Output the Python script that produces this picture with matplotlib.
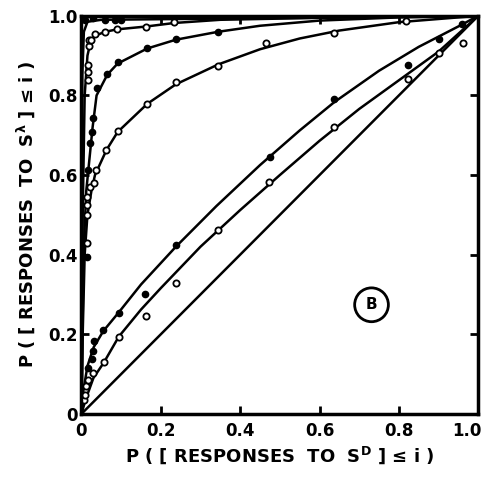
import matplotlib
matplotlib.use("Agg")
import matplotlib.pyplot as plt
import matplotlib.transforms as mtransforms
from matplotlib.patches import Ellipse

# ---- fitted curves ----
fit_a_x = [0, 0.01, 0.03, 0.057, 0.094, 0.15, 0.2, 0.3, 0.4, 0.5, 0.6, 0.7, 0.8, 0.9, 1.0]
fit_a_y = [0, 0.035, 0.09, 0.13, 0.194, 0.262, 0.316, 0.42, 0.512, 0.6, 0.686, 0.766, 0.838, 0.91, 1.0]

fit_b_x = [0, 0.005, 0.015, 0.031, 0.055, 0.094, 0.15, 0.238, 0.34, 0.45, 0.55, 0.637, 0.75, 0.85, 0.959, 1.0]
fit_b_y = [0, 0.06, 0.12, 0.168, 0.208, 0.255, 0.325, 0.42, 0.522, 0.625, 0.712, 0.783, 0.862, 0.922, 0.978, 1.0]

fit_c_x = [0, 0.003, 0.008, 0.015, 0.025, 0.034, 0.063, 0.091, 0.166, 0.238, 0.345, 0.45, 0.55, 0.65, 0.8, 1.0]
fit_c_y = [0, 0.2, 0.4, 0.5, 0.56, 0.6, 0.663, 0.708, 0.779, 0.828, 0.878, 0.916, 0.943, 0.963, 0.984, 1.0]

fit_d_x = [0, 0.005, 0.012, 0.02, 0.028, 0.038, 0.065, 0.091, 0.166, 0.238, 0.345, 0.45, 0.6, 0.8, 1.0]
fit_d_y = [0, 0.4, 0.56, 0.64, 0.72, 0.8, 0.852, 0.88, 0.918, 0.94, 0.96, 0.975, 0.988, 0.996, 1.0]

fit_e_x = [0, 0.003, 0.008, 0.015, 0.023, 0.034, 0.06, 0.09, 0.162, 0.234, 0.35, 0.6, 1.0]
fit_e_y = [0, 0.5, 0.8, 0.9, 0.935, 0.95, 0.96, 0.966, 0.973, 0.982, 0.99, 0.995, 1.0]

fit_f_x = [0, 0.002, 0.006, 0.015, 0.05, 0.35, 0.7, 1.0]
fit_f_y = [0, 0.85, 0.96, 0.985, 0.99, 0.993, 0.996, 1.0]

# ---- observed points ----
open_a_x = [0.006, 0.009, 0.011, 0.017, 0.03, 0.057, 0.094, 0.162, 0.238, 0.343, 0.473, 0.636, 0.823, 0.9, 0.962]
open_a_y = [0.035, 0.048, 0.069, 0.085, 0.102, 0.13, 0.194, 0.246, 0.329, 0.462, 0.582, 0.72, 0.842, 0.906, 0.931]

fill_b_x = [0.017, 0.026, 0.03, 0.031, 0.055, 0.094, 0.161, 0.238, 0.475, 0.637, 0.823, 0.9, 0.959]
fill_b_y = [0.115, 0.137, 0.157, 0.182, 0.211, 0.253, 0.301, 0.425, 0.646, 0.791, 0.877, 0.941, 0.98]

open_c_x = [0.013, 0.013, 0.013, 0.021, 0.031, 0.036, 0.063, 0.091, 0.166, 0.238, 0.345, 0.466, 0.636, 0.819]
open_c_y = [0.5, 0.525, 0.546, 0.571, 0.581, 0.613, 0.663, 0.711, 0.779, 0.833, 0.875, 0.931, 0.957, 0.986]

fill_d_x = [0.013, 0.017, 0.021, 0.026, 0.03, 0.038, 0.065, 0.091, 0.166, 0.238, 0.345]
fill_d_y = [0.395, 0.613, 0.68, 0.709, 0.743, 0.818, 0.854, 0.883, 0.92, 0.941, 0.959]

open_e_x = [0.013, 0.016, 0.016, 0.016, 0.018, 0.02, 0.023, 0.034, 0.059, 0.089, 0.162, 0.234]
open_e_y = [0.429, 0.839, 0.86, 0.877, 0.923, 0.94, 0.94, 0.954, 0.96, 0.967, 0.971, 0.984]

fill_f_x = [0.01, 0.03, 0.06, 0.085, 0.10]
fill_f_y = [0.99, 0.995, 0.99, 0.99, 0.99]

ticks = [0, 0.2, 0.4, 0.6, 0.8, 1.0]
tick_labels = ["0", "0.2", "0.4", "0.6", "0.8", "1.0"]

fig = plt.figure(figsize=(4.88, 4.79), dpi=100)
ax = fig.add_axes([0.167, 0.136, 0.813, 0.831])

ax.plot([0, 1], [0, 1], color="black", lw=1.8)
for fx, fy in [(fit_a_x, fit_a_y), (fit_b_x, fit_b_y), (fit_c_x, fit_c_y),
               (fit_d_x, fit_d_y), (fit_e_x, fit_e_y), (fit_f_x, fit_f_y)]:
    ax.plot(fx, fy, color="black", lw=1.8, solid_joinstyle="round")

for px, py in [(open_a_x, open_a_y), (open_c_x, open_c_y), (open_e_x, open_e_y)]:
    ax.plot(px, py, "o", ms=4.5, mfc="white", mec="black", mew=1.3, ls="none")
for px, py in [(fill_b_x, fill_b_y), (fill_d_x, fill_d_y), (fill_f_x, fill_f_y)]:
    ax.plot(px, py, "o", ms=4.5, mfc="black", mec="black", ls="none")

# circled panel letter
ax.add_patch(Ellipse((0.731, 0.274), 0.085, 0.085, fill=False, ec="black", lw=2))
ax.text(0.731, 0.274, "B", ha="center", va="center", fontsize=11, fontweight="bold")

ax.set_xlim(0, 1)
ax.set_ylim(0, 1)
ax.set_xticks(ticks)
ax.set_yticks(ticks)
ax.set_xticklabels(tick_labels, fontsize=12, fontweight="bold")
ax.set_yticklabels(tick_labels, fontsize=12, fontweight="bold")
ax.tick_params(direction="in", length=6, width=2, top=True, right=True)
ax.tick_params(axis="x", pad=6)
ax.tick_params(axis="y", pad=3)
for sp in ax.spines.values():
    sp.set_linewidth(2.5)

# keep the last x label inside the figure, as in the original
last = ax.get_xticklabels()[-1]
last.set_transform(last.get_transform() +
                   mtransforms.ScaledTranslation(-8 / 72, 0, fig.dpi_scale_trans))

ax.set_xlabel("P ( [ RESPONSES  TO  S$^{\\mathbf{D}}$ ] ≤ i )", fontsize=13,
              fontweight="bold", labelpad=3)
ax.set_ylabel("P ( [ RESPONSES  TO  S$^{\\mathbf{\\lambda}}$ ] ≤ i )", fontsize=13,
              fontweight="bold", labelpad=8)

fig.savefig("out.png", dpi=100)
